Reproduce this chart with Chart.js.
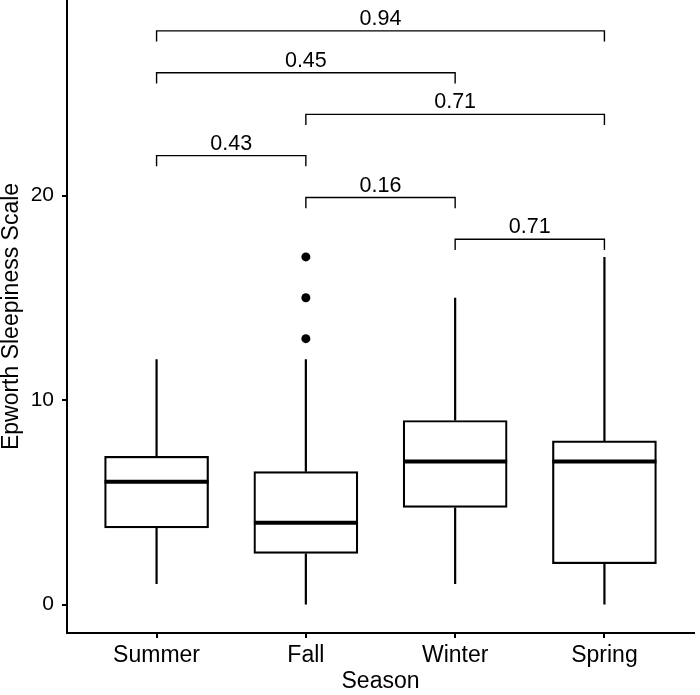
<!DOCTYPE html>
<html>
<head>
<meta charset="utf-8">
<script src="https://cdn.jsdelivr.net/npm/chart.js@4.4.1/dist/chart.umd.min.js"></script>
<style>
  body { margin: 0; background: #fff; }
  #wrap { width: 700px; height: 695px; }
</style>
</head>
<body>
<div id="wrap"><canvas id="myChart" width="700" height="695"></canvas></div>
<script>
// box plot values
const seasons = ['Summer', 'Fall', 'Winter', 'Spring'];
const whiskerLow = [1, 0, 1, 0];
const boxLow = [3.75, 2.5, 4.75, 2];
const medians = [6, 4, 7, 7];
const boxHigh = [7.25, 6.5, 9, 8];
const whiskerHigh = [12, 12, 15, 17];
const outlierSeason = [2, 2, 2];
const outlierValues = [13, 15, 17];

// pairwise comparisons (season index 1..4)
const pairFrom = [1, 1, 2, 1, 2, 3];
const pairTo = [4, 3, 4, 2, 3, 4];
const pairLevel = [28.05, 26, 23.97, 21.95, 19.9, 17.86];
const pValues = ['0.94', '0.45', '0.71', '0.43', '0.16', '0.71'];
const tip = 0.52;

const yTicks = [0, 10, 20];

const family = '"Liberation Sans", Arial, Helvetica, sans-serif';
Chart.defaults.font.family = family;
Chart.defaults.color = '#000';

const whiskerPts = [];
seasons.forEach((s, i) => {
  const x = i + 1;
  whiskerPts.push({x: x, y: whiskerHigh[i]}, {x: x, y: boxHigh[i]}, {x: x, y: null},
                  {x: x, y: boxLow[i]}, {x: x, y: whiskerLow[i]}, {x: x, y: null});
});

const bracketPts = [];
pairLevel.forEach((lv, k) => {
  bracketPts.push({x: pairFrom[k], y: lv - tip}, {x: pairFrom[k], y: lv},
                  {x: pairTo[k], y: lv}, {x: pairTo[k], y: lv - tip}, {x: pairTo[k], y: null});
});

const pLabels = {
  id: 'pLabels',
  afterDatasetsDraw(chart) {
    const {ctx, scales: {x, y}} = chart;
    ctx.save();
    ctx.font = '21.5px ' + family;
    ctx.fillStyle = '#000';
    ctx.textAlign = 'center';
    ctx.textBaseline = 'alphabetic';
    pValues.forEach((p, k) => {
      ctx.fillText(p, x.getPixelForValue((pairFrom[k] + pairTo[k]) / 2), y.getPixelForValue(pairLevel[k]) - 6);
    });
    ctx.restore();
  }
};

const axisGrid = {display: true, drawOnChartArea: false, drawTicks: true, tickLength: 5, color: '#000', lineWidth: 2, offset: false};
const axisBorder = {display: true, color: '#000', width: 2};

const config = {
  type: 'bar',
  data: {
    datasets: [
      {
        type: 'line',
        data: whiskerPts,
        borderColor: '#000',
        borderWidth: 2.2,
        pointRadius: 0,
        spanGaps: false,
        fill: false,
        order: 4
      },
      {
        type: 'bar',
        data: seasons.map((s, i) => ({x: i + 1, y: [boxLow[i], boxHigh[i]]})),
        backgroundColor: '#fff',
        borderColor: '#000',
        borderWidth: 2.2,
        borderSkipped: false,
        barThickness: 104,
        grouped: false,
        order: 3
      },
      {
        type: 'scatter',
        data: seasons.map((s, i) => ({x: i + 1, y: medians[i]})),
        pointStyle: 'line',
        pointRadius: 52,
        pointBorderWidth: 4,
        pointBorderColor: '#000',
        order: 2
      },
      {
        type: 'scatter',
        data: outlierValues.map((v, i) => ({x: outlierSeason[i], y: v})),
        pointRadius: 4.5,
        pointBackgroundColor: '#000',
        pointBorderColor: '#000',
        pointBorderWidth: 0,
        order: 1
      },
      {
        type: 'line',
        data: bracketPts,
        borderColor: '#000',
        borderWidth: 1.4,
        pointRadius: 0,
        spanGaps: false,
        fill: false,
        order: 0
      }
    ]
  },
  options: {
    responsive: false,
    animation: false,
    layout: {autoPadding: false, padding: {left: 0, right: 6, top: 0, bottom: 0}},
    plugins: {legend: {display: false}, tooltip: {enabled: false}},
    scales: {
      x: {
        type: 'linear',
        min: 0.4,
        max: 4.6,
        offset: false,
        afterBuildTicks: s => { s.ticks = seasons.map((n, i) => ({value: i + 1})); },
        afterFit: s => { s.height = 62; s.paddingLeft = 0; s.paddingRight = 0; },
        ticks: {
          callback: v => seasons[v - 1],
          font: {size: 23},
          color: '#000',
          padding: 4,
          autoSkip: false,
          maxRotation: 0
        },
        grid: axisGrid,
        border: axisBorder,
        title: {display: true, text: 'Season', font: {size: 23}, color: '#000', padding: 0}
      },
      y: {
        type: 'linear',
        min: -1.39,
        max: 29.56,
        afterBuildTicks: s => { s.ticks = yTicks.map(v => ({value: v})); },
        afterFit: s => { s.width = 67; s.paddingTop = 0; s.paddingBottom = 0; },
        ticks: {font: {size: 21}, color: '#000', padding: 8},
        grid: axisGrid,
        border: axisBorder,
        title: {display: true, text: 'Epworth Sleepiness Scale', font: {size: 23, lineHeight: 1.05}, color: '#000', padding: 0}
      }
    }
  },
  plugins: [pLabels]
};

var ctx = document.getElementById('myChart').getContext('2d');
grafica = new Chart(ctx, config);
</script>
</body>
</html>
